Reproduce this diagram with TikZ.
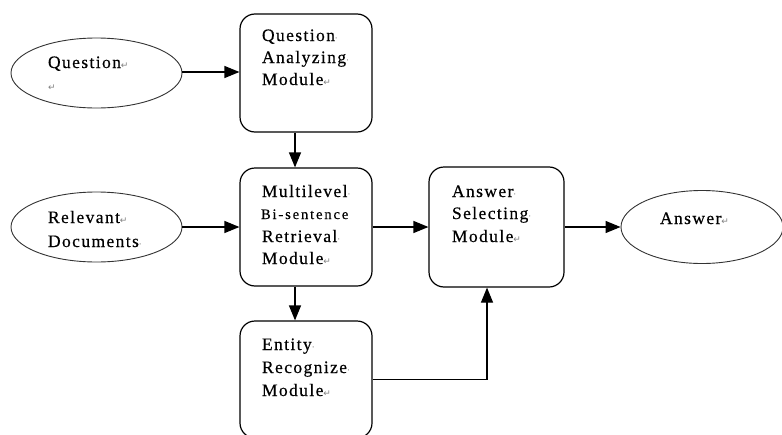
\documentclass[tikz,border=0pt]{standalone}
\usepackage{fontspec}
\usetikzlibrary{arrows.meta,shapes.geometric}
\newfontfamily\wordfont[LetterSpace=8,FakeBold=0.4]{Liberation Serif}
\newfontfamily\wordsmall[LetterSpace=13,FakeBold=0.4]{Liberation Serif}
\newfontfamily\markfont{DejaVu Sans}
\newcommand{\pmk}{{\markfont\fontsize{9}{9}\selectfont\color{black!50}↵}}
\newcommand{\smk}{{\markfont\fontsize{9}{9}\selectfont\color{black!50}·}}
\tikzset{
  modbox/.style={draw=black, line width=1.2pt, rounded corners=15pt, rectangle},
  oval/.style={draw=black!80, line width=0.9pt, ellipse},
  txt/.style={anchor=base west, inner sep=0pt, outer sep=0pt, font=\wordfont\fontsize{17.5}{20}\selectfont, text=black},
  txtsm/.style={anchor=base west, inner sep=0pt, outer sep=0pt, font=\wordsmall\fontsize{14.5}{18}\selectfont, text=black},
  arr/.style={line width=1.2pt, -{Triangle[length=15pt,width=12pt]}}
}
\begin{document}
\begin{tikzpicture}[x=1pt,y=-1pt]
\useasboundingbox (0,0) rectangle (782,434);
\clip (0,0) rectangle (782,434);
% shapes
\node[oval, minimum width=171pt, minimum height=70pt] (q) at (96.5,73) {};
\node[oval, minimum width=171pt, minimum height=70pt] (rd) at (96.5,227) {};
\node[oval, minimum width=162pt, minimum height=73pt] (ans) at (702,227) {};
\node[modbox, minimum width=132pt, minimum height=118pt] (qa) at (306,73) {};
\node[modbox, minimum width=132pt, minimum height=118pt] (mbr) at (306,227) {};
\node[modbox, minimum width=135pt, minimum height=120pt] (as) at (496.5,227) {};
\node[modbox, minimum width=132pt, minimum height=117pt] (ent) at (306,379.5) {};
% texts
\node[txt] (qt1) at (48,68) {Question\pmk};
\node[txt] (qt2) at (48,90) {\pmk};
\node[txt] (rt1) at (48,223) {Relevant\pmk};
\node[txt] (rt2) at (48,247) {Documents\smk};
\node[txt] (at1) at (660,224) {Answer\pmk};
\node[txt] (qat1) at (262,41) {Question\smk};
\node[txt] (qat2) at (262,63) {Analyzing\smk};
\node[txt] (qat3) at (262,85) {Module\pmk};
\node[txt] (mt1) at (262,197) {Multilevel\smk};
\node[txtsm] (mt2) at (261,219) {Bi-sentence};
\node[txt] (mt3) at (262,242) {Retrieval\smk};
\node[txt] (mt4) at (262,264) {Module\pmk};
\node[txt] (ast1) at (452,197) {Answer\smk};
\node[txt] (ast2) at (452,219) {Selecting\smk};
\node[txt] (ast3) at (452,242) {Module\pmk};
\node[txt] (et1) at (262,350) {Entity\smk};
\node[txt] (et2) at (262,373) {Recognize\smk};
\node[txt] (et3) at (262,396) {Module\pmk};
% connectors
\draw[arr] (q.east |- 0,72) -- (qa.west |- 0,72);
\draw[arr] (rd.east) -- (mbr.west);
\draw[arr] ([xshift=-11pt]qa.south) -- ([xshift=-11pt]mbr.north);
\draw[arr] (mbr.east) -- (as.west);
\draw[arr] (as.east) -- (ans.west);
\draw[arr] ([xshift=-11pt]mbr.south) -- ([xshift=-11pt]ent.north);
\draw[arr] (ent.east) -| ([xshift=-9.5pt]as.south);
\end{tikzpicture}
\end{document}
